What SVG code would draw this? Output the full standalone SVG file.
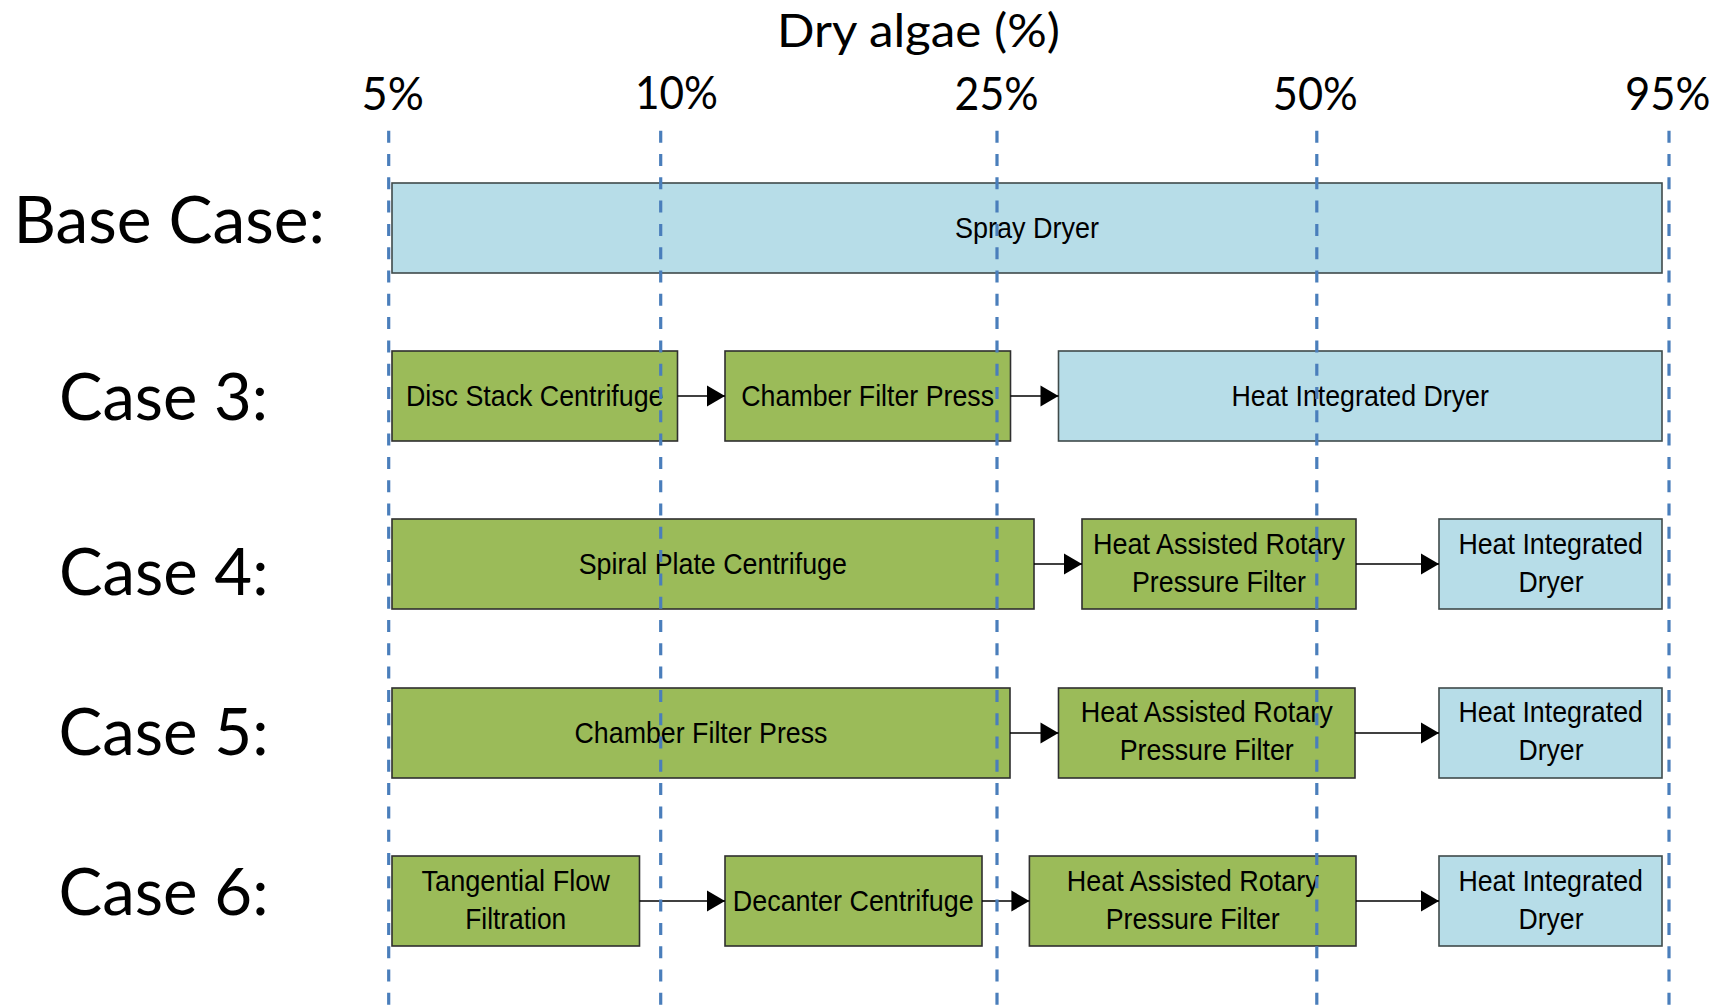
<svg xmlns="http://www.w3.org/2000/svg" width="1729" height="1006" viewBox="0 0 1729 1006">
  <style>
    .big { font-family: Lato, "Liberation Sans", sans-serif; fill: #000; }
    .axis { font-size: 46px; }
    .case { font-size: 66px; }
    .lbl { font-family: "Liberation Sans", Arial, sans-serif; font-size: 30px; fill: #000; text-anchor: middle; }
    .green { fill: #9BBB59; stroke: #2f2f2f; stroke-width: 1.6; }
    .blue { fill: #B7DDE8; stroke: #3f4a4a; stroke-width: 1.6; }
    .guide { stroke: #4A7EBB; stroke-width: 3.2; stroke-dasharray: 12 11.3; fill: none; }
    .conn { stroke: #000; stroke-width: 1.4; fill: none; marker-end: url(#arrow); }
  </style>
  <defs>
    <marker id="arrow" markerUnits="userSpaceOnUse" markerWidth="18" markerHeight="21" refX="18" refY="10.5" orient="auto" overflow="visible">
      <path d="M0,0 L18,10.5 L0,21 Z" fill="#000"/>
    </marker>
  </defs>
  <rect width="1729" height="1006" fill="#fff"/>

  <!-- axis titles -->
  <g id="axis-labels">
    <text class="big axis" x="777" y="47" textLength="283" lengthAdjust="spacingAndGlyphs">Dry algae (%)</text>
    <text class="big axis" x="361.6" y="110" textLength="62.4" lengthAdjust="spacingAndGlyphs">5%</text>
    <text class="big axis" x="635" y="109" textLength="83" lengthAdjust="spacingAndGlyphs">10%</text>
    <text class="big axis" x="954.6" y="110" textLength="84" lengthAdjust="spacingAndGlyphs">25%</text>
    <text class="big axis" x="1272.8" y="110" textLength="85" lengthAdjust="spacingAndGlyphs">50%</text>
    <text class="big axis" x="1625" y="110" textLength="85.5" lengthAdjust="spacingAndGlyphs">95%</text>
  </g>

  <!-- row labels -->
  <g id="row-labels">
    <text class="big case" x="13.4" y="243" textLength="311.6" lengthAdjust="spacingAndGlyphs">Base Case:</text>
    <text class="big case" x="59" y="420" textLength="209" lengthAdjust="spacingAndGlyphs">Case 3:</text>
    <text class="big case" x="59" y="595" textLength="209.5" lengthAdjust="spacingAndGlyphs">Case 4:</text>
    <text class="big case" x="58.5" y="754.5" textLength="210" lengthAdjust="spacingAndGlyphs">Case 5:</text>
    <text class="big case" x="58.5" y="915" textLength="210" lengthAdjust="spacingAndGlyphs">Case 6:</text>
  </g>

  <!-- Base case -->
  <g id="base-spray-dryer">
    <rect class="blue" x="392" y="183" width="1270" height="90"/>
    <text class="lbl" x="1027" y="238" textLength="144" lengthAdjust="spacingAndGlyphs">Spray Dryer</text>
  </g>

  <!-- Case 3 -->
  <g id="c3-disc-stack">
    <rect class="green" x="392" y="351" width="285.5" height="90"/>
    <text class="lbl" x="534.7" y="406" textLength="257.6" lengthAdjust="spacingAndGlyphs">Disc Stack Centrifuge</text>
  </g>
  <g id="c3-chamber">
    <rect class="green" x="725" y="351" width="285.5" height="90"/>
    <text class="lbl" x="867.7" y="406" textLength="252.8" lengthAdjust="spacingAndGlyphs">Chamber Filter Press</text>
  </g>
  <g id="c3-hid">
    <rect class="blue" x="1058.5" y="351" width="603.5" height="90"/>
    <text class="lbl" x="1360.2" y="406" textLength="257.5" lengthAdjust="spacingAndGlyphs">Heat Integrated Dryer</text>
  </g>

  <!-- Case 4 -->
  <g id="c4-spiral">
    <rect class="green" x="392" y="519" width="642" height="90"/>
    <text class="lbl" x="712.8" y="574" textLength="268.3" lengthAdjust="spacingAndGlyphs">Spiral Plate Centrifuge</text>
  </g>
  <g id="c4-harpf">
    <rect class="green" x="1082" y="519" width="274" height="90"/>
    <text class="lbl" x="1219" y="553.5" textLength="252" lengthAdjust="spacingAndGlyphs">Heat Assisted Rotary</text>
    <text class="lbl" x="1219" y="591.5" textLength="174" lengthAdjust="spacingAndGlyphs">Pressure Filter</text>
  </g>
  <g id="c4-hid">
    <rect class="blue" x="1439" y="519" width="223" height="90"/>
    <text class="lbl" x="1550.7" y="553.5" textLength="184.6" lengthAdjust="spacingAndGlyphs">Heat Integrated</text>
    <text class="lbl" x="1551" y="591.5" textLength="65" lengthAdjust="spacingAndGlyphs">Dryer</text>
  </g>

  <!-- Case 5 -->
  <g id="c5-chamber">
    <rect class="green" x="392" y="688" width="618" height="90"/>
    <text class="lbl" x="701" y="743" textLength="253" lengthAdjust="spacingAndGlyphs">Chamber Filter Press</text>
  </g>
  <g id="c5-harpf">
    <rect class="green" x="1058.5" y="688" width="296.5" height="90"/>
    <text class="lbl" x="1206.7" y="722" textLength="252" lengthAdjust="spacingAndGlyphs">Heat Assisted Rotary</text>
    <text class="lbl" x="1206.7" y="760" textLength="174" lengthAdjust="spacingAndGlyphs">Pressure Filter</text>
  </g>
  <g id="c5-hid">
    <rect class="blue" x="1439" y="688" width="223" height="90"/>
    <text class="lbl" x="1550.7" y="722" textLength="184.6" lengthAdjust="spacingAndGlyphs">Heat Integrated</text>
    <text class="lbl" x="1551" y="760" textLength="65" lengthAdjust="spacingAndGlyphs">Dryer</text>
  </g>

  <!-- Case 6 -->
  <g id="c6-tff">
    <rect class="green" x="392" y="856" width="247.5" height="90"/>
    <text class="lbl" x="515.7" y="890.5" textLength="188.4" lengthAdjust="spacingAndGlyphs">Tangential Flow</text>
    <text class="lbl" x="515.7" y="928.5" textLength="101" lengthAdjust="spacingAndGlyphs">Filtration</text>
  </g>
  <g id="c6-decanter">
    <rect class="green" x="725" y="856" width="257" height="90"/>
    <text class="lbl" x="853.2" y="911" textLength="240.8" lengthAdjust="spacingAndGlyphs">Decanter Centrifuge</text>
  </g>
  <g id="c6-harpf">
    <rect class="green" x="1029.4" y="856" width="326.6" height="90"/>
    <text class="lbl" x="1192.7" y="890.5" textLength="252" lengthAdjust="spacingAndGlyphs">Heat Assisted Rotary</text>
    <text class="lbl" x="1192.7" y="928.5" textLength="174" lengthAdjust="spacingAndGlyphs">Pressure Filter</text>
  </g>
  <g id="c6-hid">
    <rect class="blue" x="1439" y="856" width="223" height="90"/>
    <text class="lbl" x="1550.7" y="890.5" textLength="184.6" lengthAdjust="spacingAndGlyphs">Heat Integrated</text>
    <text class="lbl" x="1551" y="928.5" textLength="65" lengthAdjust="spacingAndGlyphs">Dryer</text>
  </g>

  <!-- connectors -->
  <g id="connectors">
    <line class="conn" x1="677.5" y1="396" x2="725" y2="396"/>
    <line class="conn" x1="1010.5" y1="396" x2="1058.5" y2="396"/>
    <line class="conn" x1="1034" y1="564" x2="1082" y2="564"/>
    <line class="conn" x1="1356" y1="564" x2="1439" y2="564"/>
    <line class="conn" x1="1010" y1="733" x2="1058.5" y2="733"/>
    <line class="conn" x1="1355" y1="733" x2="1439" y2="733"/>
    <line class="conn" x1="639.5" y1="901" x2="725" y2="901"/>
    <line class="conn" x1="982" y1="901" x2="1029.4" y2="901"/>
    <line class="conn" x1="1356" y1="901" x2="1439" y2="901"/>
  </g>

  <!-- dashed guide lines -->
  <g id="guides">
    <line class="guide" x1="388.7" y1="130.7" x2="388.7" y2="1006"/>
    <line class="guide" x1="660.7" y1="130.7" x2="660.7" y2="1006"/>
    <line class="guide" x1="997" y1="130.7" x2="997" y2="1006"/>
    <line class="guide" x1="1316.8" y1="130.7" x2="1316.8" y2="1006"/>
    <line class="guide" x1="1669" y1="130.7" x2="1669" y2="1006"/>
  </g>
</svg>
